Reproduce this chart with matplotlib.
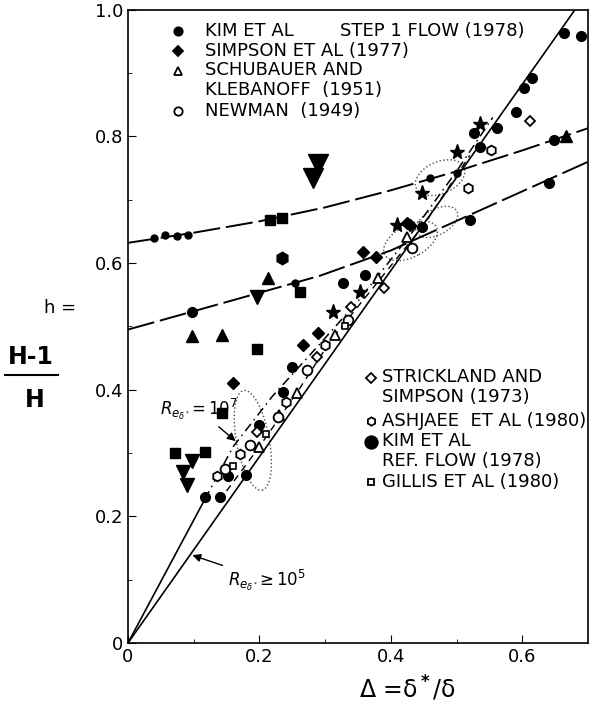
import numpy as np
import matplotlib
matplotlib.use("Agg")
import matplotlib.pyplot as plt
from matplotlib.patches import Ellipse

plt.rcParams['font.family'] = ['DejaVu Sans']

# ---- curves ----
# Re >= 1e5 straight line through origin
line5_x = [0.0, 0.68]
line5_y = [0.0, 1.0]
# Re = 1e7 : solid part from origin, then dashed band
line7_x = [0.0, 0.117]
line7_y = [0.0, 0.227]
band_a_x = [0.117, 0.16, 0.22, 0.29, 0.35, 0.43, 0.50, 0.555]
band_a_y = [0.227, 0.31, 0.39, 0.47, 0.54, 0.645, 0.745, 0.83]
band_b_x = [0.15, 0.20, 0.26, 0.31, 0.38, 0.45, 0.52]
band_b_y = [0.24, 0.31, 0.40, 0.48, 0.57, 0.66, 0.77]
# upper trend line (step flow)
up_x = [0.0, 0.1, 0.2, 0.3, 0.4, 0.5, 0.6, 0.7]
up_y = [0.632, 0.648, 0.666, 0.688, 0.715, 0.745, 0.778, 0.813]
# middle trend line
mid_x = [0.0, 0.155, 0.292, 0.4, 0.55, 0.7]
mid_y = [0.495, 0.54, 0.58, 0.62, 0.69, 0.76]

# ---- data points ----
kim_x = [0.117, 0.14, 0.152, 0.18, 0.2, 0.236, 0.249, 0.327, 0.36, 0.447, 0.527,
         0.535, 0.561, 0.591, 0.603, 0.615, 0.664, 0.69, 0.52, 0.641, 0.649, 0.097]
kim_y = [0.23, 0.231, 0.263, 0.266, 0.345, 0.397, 0.436, 0.568, 0.581, 0.657, 0.806,
         0.783, 0.813, 0.838, 0.877, 0.893, 0.964, 0.958, 0.668, 0.726, 0.795, 0.523]
stepdot_x = [0.04, 0.056, 0.074, 0.091, 0.254, 0.459, 0.50]
stepdot_y = [0.64, 0.644, 0.643, 0.644, 0.568, 0.734, 0.743]
simpson_x = [0.289, 0.357, 0.429, 0.266, 0.378, 0.424, 0.16]
simpson_y = [0.49, 0.617, 0.66, 0.471, 0.61, 0.663, 0.411]
schub_x = [0.257, 0.315, 0.38, 0.424, 0.23, 0.2]
schub_y = [0.395, 0.487, 0.576, 0.641, 0.36, 0.31]
newman_x = [0.432, 0.228, 0.272, 0.335, 0.185, 0.147]
newman_y = [0.624, 0.357, 0.431, 0.51, 0.313, 0.274]
strick_x = [0.39, 0.611, 0.287, 0.196, 0.34]
strick_y = [0.56, 0.825, 0.452, 0.334, 0.53]
ashj_x = [0.553, 0.517, 0.135, 0.17, 0.30, 0.24]
ashj_y = [0.778, 0.718, 0.263, 0.298, 0.47, 0.38]
gillis_x = [0.16, 0.21, 0.33]
gillis_y = [0.28, 0.33, 0.50]
star_x = [0.312, 0.353, 0.409, 0.448, 0.501, 0.535]
star_y = [0.523, 0.554, 0.66, 0.71, 0.775, 0.82]
tri_f_x = [0.097, 0.143, 0.213, 0.667]
tri_f_y = [0.485, 0.487, 0.576, 0.80]
sq_x = [0.117, 0.143, 0.196, 0.216, 0.234, 0.261, 0.071]
sq_y = [0.302, 0.364, 0.465, 0.668, 0.672, 0.554, 0.30]
hexf_x = [0.234]
hexf_y = [0.608]
vtri_x = [0.097, 0.084, 0.09, 0.196]
vtri_y = [0.287, 0.27, 0.25, 0.546]
vtri_big_x = [0.281, 0.289]
vtri_big_y = [0.734, 0.757]

# legend entries
leg1_text = ['KIM ET AL', 'SIMPSON ET AL (1977)', 'SCHUBAUER AND\nKLEBANOFF  (1951)', 'NEWMAN  (1949)']
leg2_text = ['STRICKLAND AND\nSIMPSON (1973)', 'ASHJAEE  ET AL (1980)',
             'KIM ET AL\nREF. FLOW (1978)', 'GILLIS ET AL (1980)']

fig = plt.figure(figsize=(6, 7.05), dpi=100)
ax = fig.add_axes([0.2133, 0.088, 0.7667, 0.898])

k = 'black'
ax.plot(line5_x, line5_y, color=k, lw=1.2)
ax.plot(line7_x, line7_y, color=k, lw=1.2)
ax.plot(band_a_x, band_a_y, color=k, lw=1.1, ls=(0, (6, 3, 1, 3)))
ax.plot(band_b_x, band_b_y, color=k, lw=1.0, ls=(0, (5, 4)))
ax.plot(up_x, up_y, color=k, lw=1.4, ls=(0, (14, 3)))
ax.plot(mid_x, mid_y, color=k, lw=1.4, ls=(0, (14, 3)))

# stippled zones where lines cross the band
for cx, cy, w, h, a in [(0.43, 0.635, 0.09, 0.05, 30), (0.475, 0.735, 0.08, 0.05, 25),
                        (0.47, 0.665, 0.07, 0.04, 30), (0.19, 0.32, 0.05, 0.16, 10)]:
    ax.add_patch(Ellipse((cx, cy), w, h, angle=a, fill=False, ls=':', lw=1.0, ec='0.3'))

ms = 7
ax.plot(kim_x, kim_y, 'o', color=k, ms=ms, ls='none')
ax.plot(stepdot_x, stepdot_y, 'o', color=k, ms=5, ls='none')
ax.plot(simpson_x, simpson_y, 'D', color=k, ms=6, ls='none')
ax.plot(schub_x, schub_y, '^', mfc='white', mec=k, mew=1.3, ms=ms, ls='none')
ax.plot(newman_x, newman_y, 'o', mfc='white', mec=k, mew=1.3, ms=ms, ls='none')
ax.plot(strick_x, strick_y, 'D', mfc='white', mec=k, mew=1.3, ms=5, ls='none')
ax.plot(ashj_x, ashj_y, 'h', mfc='white', mec=k, mew=1.3, ms=ms, ls='none')
ax.plot(gillis_x, gillis_y, 's', mfc='white', mec=k, mew=1.2, ms=4, ls='none')
ax.plot(star_x, star_y, '*', color=k, ms=11, ls='none')
ax.plot(tri_f_x, tri_f_y, '^', color=k, ms=9, ls='none')
ax.plot(sq_x, sq_y, 's', color=k, ms=7, ls='none')
ax.plot(hexf_x, hexf_y, 'h', color=k, ms=9, ls='none')
ax.plot(vtri_x, vtri_y, 'v', color=k, ms=10, ls='none')
ax.plot(vtri_big_x, vtri_big_y, 'v', color=k, ms=14, ls='none')

ax.set_xlim(0, 0.7)
ax.set_ylim(0, 1.0)
ax.set_xticks([0, 0.2, 0.4, 0.6])
ax.set_xticklabels(['0', '0.2', '0.4', '0.6'])
ax.set_yticks([0, 0.2, 0.4, 0.6, 0.8, 1.0])
ax.set_yticklabels(['0', '0.2', '0.4', '0.6', '0.8', '1.0'])
ax.set_xticks(np.arange(0.1, 0.7, 0.1), minor=True)
ax.set_yticks(np.arange(0.1, 1.0, 0.1), minor=True)
ax.tick_params(which='both', direction='in', labelsize=13, top=False, right=False)
ax.tick_params(which='major', length=6)
ax.tick_params(which='minor', length=3)
for s in ax.spines.values():
    s.set_linewidth(1.2)

fs = 13
# upper legend
leg1_mark = [('o', 'k'), ('D', 'k'), ('^', 'w'), ('o', 'w')]
leg1_y = [0.967, 0.935, 0.904, 0.841]
for (m, fc), txt, yy in zip(leg1_mark, leg1_text, leg1_y):
    ax.plot([0.076], [yy], m, mfc=fc, mec=k, mew=1.3, ms=5 if m == 'D' else 6)
    if '\n' in txt:
        ax.text(0.117, yy + 0.016, txt, fontsize=fs, va='top', linespacing=1.15)
    else:
        ax.text(0.117, yy, txt, fontsize=fs, va='center')
ax.text(0.322, 0.967, 'STEP 1 FLOW (1978)', fontsize=fs, va='center')

# lower legend
leg2_mark = [('D', 'w', 5), ('h', 'w', 6), ('o', 'k', 9), ('s', 'w', 4)]
leg2_y = [0.419, 0.35, 0.317, 0.254]
for (m, fc, sz), txt, yy in zip(leg2_mark, leg2_text, leg2_y):
    ax.plot([0.37], [yy], m, mfc=fc, mec=k, mew=1.3, ms=sz, clip_on=False)
    if '\n' in txt:
        ax.text(0.386, yy + 0.016, txt, fontsize=fs, va='top', linespacing=1.15, clip_on=False)
    else:
        ax.text(0.386, yy, txt, fontsize=fs, va='center', clip_on=False)

# Reynolds-number annotations
ax.annotate(r'$R_{e_{\delta^*}}\!=10^7$', xy=(0.167, 0.316), xytext=(0.048, 0.36),
            fontsize=12, arrowprops=dict(arrowstyle='-|>', color=k, lw=1.0))
ax.annotate(r'$R_{e_{\delta^*}}\!\geq 10^5$', xy=(0.094, 0.14), xytext=(0.152, 0.09),
            fontsize=12, arrowprops=dict(arrowstyle='-|>', color=k, lw=1.0))

# axis labels
fig.text(0.10, 0.563, 'h =', fontsize=13, ha='center', va='center')
fig.text(0.052, 0.494, 'H-1', fontsize=17, fontweight='bold', ha='center', va='center')
fig.add_artist(plt.Line2D([0.008, 0.097], [0.468, 0.468], color=k, lw=1.5))
fig.text(0.058, 0.433, 'H', fontsize=17, fontweight='bold', ha='center', va='center')
fig.text(0.68, 0.024, r'$\Delta$ =δ$^{\bf *}$/δ', fontsize=17, ha='center', va='center')

fig.savefig('out.png', dpi=100)
